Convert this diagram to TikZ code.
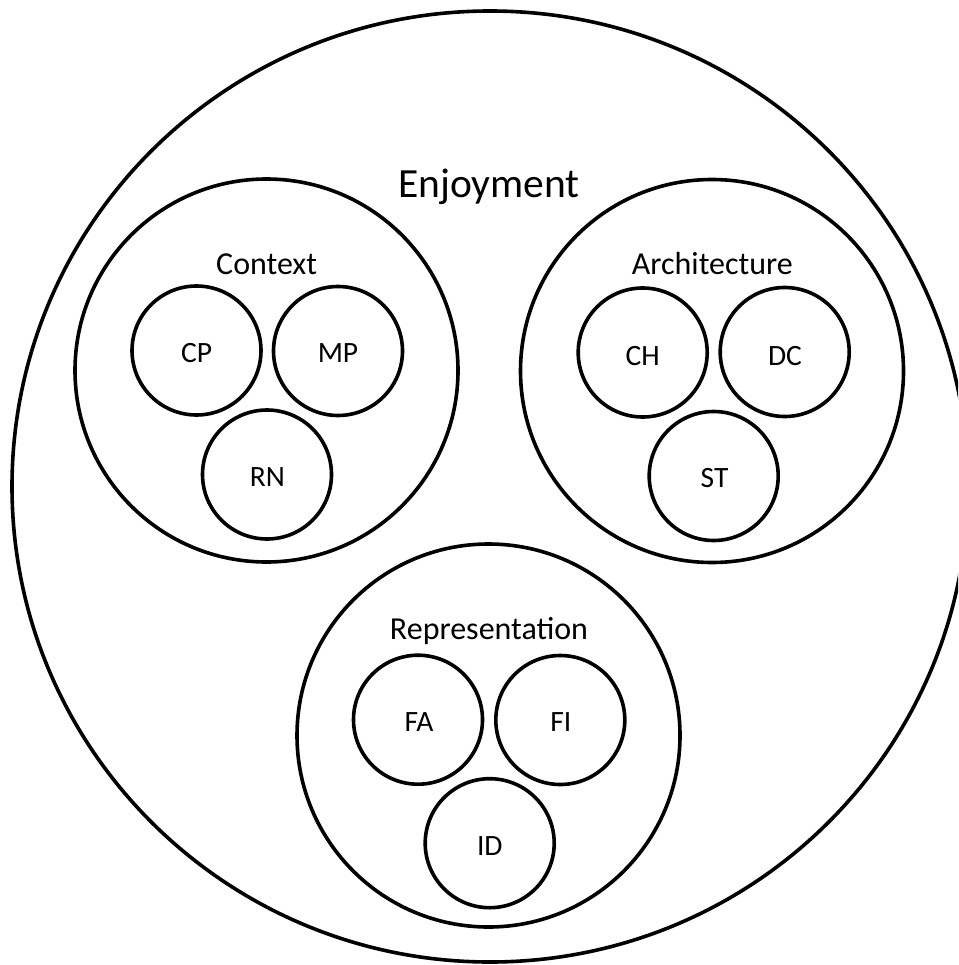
\documentclass[tikz,border=0pt]{standalone}
\usepackage{fontspec}
\setmainfont{Carlito}
\usetikzlibrary{shapes.geometric}
\tikzset{
  ring/.style={draw=black, line width=3.6pt, circle, inner sep=0pt, minimum size=383pt},
  dot/.style={draw=black, line width=3.6pt, circle, inner sep=0pt, minimum size=129pt},
  biglabel/.style={anchor=base, inner sep=0pt, font=\fontsize{41.5}{48}\selectfont},
  midlabel/.style={anchor=base, inner sep=0pt, font=\fontsize{32}{38}\selectfont},
  smalllabel/.style={anchor=base, inner sep=0pt, font=\fontsize{29.5}{35}\selectfont}
}
\begin{document}
\begin{tikzpicture}[x=1pt, y=-1pt]
\useasboundingbox (0,0) rectangle (958,965);
\clip (0,0) rectangle (958,965);
% outer ellipse
\node[draw=black, line width=3.6pt, ellipse, inner sep=0pt, minimum width=956pt, minimum height=951pt] (enj) at (490,486.5) {};
\node[biglabel] (enjt) at (489,197.3) {Enjoyment};
% Context
\node[ring] (ctx) at (266.5,370.5) {};
\node[midlabel] (ctxt) at (266.7,274.3) {Context};
\node[dot] (cp) at (196.5,350.5) {};
\node[dot] (mp) at (338,351) {};
\node[dot] (rn) at (267,474.5) {};
\node[smalllabel] (cpt) at (196.7,362.3) {CP};
\node[smalllabel] (mpt) at (338,362.3) {MP};
\node[smalllabel] (rnt) at (267.5,486) {RN};
% Architecture
\node[ring] (arc) at (712,371) {};
\node[midlabel] (arct) at (712.3,274.3) {Architecture};
\node[dot] (ch) at (642.7,352.5) {};
\node[dot] (dc) at (784.7,352) {};
\node[dot] (st) at (713.7,476) {};
\node[smalllabel] (cht) at (642.7,365) {CH};
\node[smalllabel] (dct) at (785,365) {DC};
\node[smalllabel] (stt) at (714.5,487.3) {ST};
% Representation
\node[ring] (rep) at (488.5,735.5) {};
\node[midlabel] (rept) at (489,639) {Representation};
\node[dot] (fa) at (418,719.7) {};
\node[dot] (fi) at (560.3,720) {};
\node[dot] (id) at (489.7,843.2) {};
\node[smalllabel] (fat) at (419,731) {FA};
\node[smalllabel] (fit) at (560.8,731) {FI};
\node[smalllabel] (idt) at (489.8,855) {ID};
\end{tikzpicture}
\end{document}
